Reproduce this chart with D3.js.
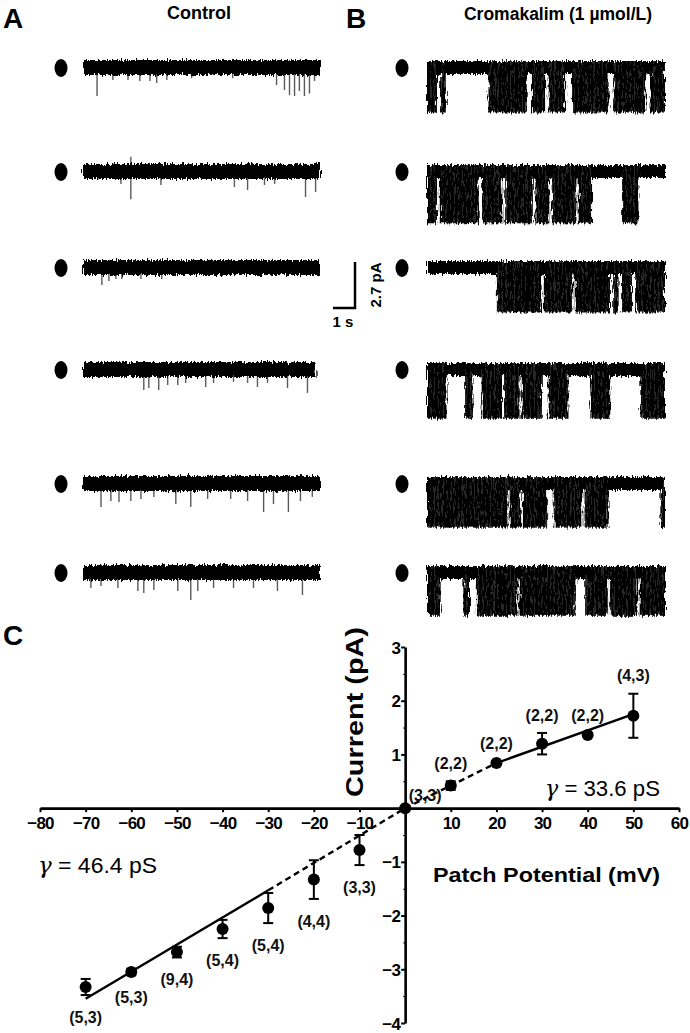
<!DOCTYPE html>
<html>
<head>
<meta charset="utf-8">
<script src="https://cdn.jsdelivr.net/npm/d3@7"></script>
<style>
  body { margin: 0; background: #fff; }
  svg { display: block; font-family: "Liberation Sans", Arial, sans-serif; }
</style>
</head>
<body>
<script>
// ---------- data: single-channel records ----------
const traceDuration = 10.8; // s, width of one record
const controlLength = [10.8, 10.8, 10.8, 10.6, 10.8, 10.8];

// Control: brief openings, [time (s), amplitude (pA)], negative = upward artefact
const controlSpikes = [
  [[0.64, 1.65], [1.36, 0.7], [2.05, 0.7], [2.59, 0.76], [3.05, 0.76], [3.36, 0.88], [3.82, 0.7],
   [4.95, 0.6], [6.82, 0.6], [8.82, 1.0], [9.18, 1.3], [9.41, 1.6], [9.64, 1.65], [9.86, 1.35],
   [10.09, 1.65], [10.32, 1.5], [10.55, 0.76]],
  [[0.68, 0.47], [1.73, 0.7], [2.18, 1.6], [2.18, -0.9], [3.55, 0.76], [6.9, 0.88], [7.5, 1.06],
   [8.27, 0.76], [8.73, 0.7], [10.14, 1.47], [10.6, 1.18]],
  [[0.86, 1.0], [1.18, 0.76], [1.5, 0.65], [1.77, 0.65], [2.64, 0.65], [3.59, 0.65]],
  [[2.77, 1.18], [3.0, 1.06], [3.45, 1.18], [3.86, 0.88], [4.32, 0.88], [4.68, 0.76], [5.59, 1.0],
   [5.95, 0.76], [6.86, 0.7], [7.5, 0.76], [7.95, 1.0], [8.41, 0.76], [9.32, 1.06], [10.23, 1.35]],
  [[0.82, 1.35], [1.27, 1.0], [1.64, 1.06], [2.18, 1.0], [2.64, 0.88], [3.23, 0.76], [4.23, 1.18],
   [4.91, 1.35], [5.68, 0.88], [6.73, 0.88], [7.5, 1.0], [8.23, 1.65], [8.68, 1.18], [9.36, 1.65],
   [9.91, 1.0], [10.45, 0.76]],
  [[0.36, 0.88], [0.82, 0.76], [1.59, 0.88], [2.5, 1.06], [2.77, 1.18], [3.23, 1.0], [4.32, 1.06],
   [4.91, 1.59], [5.23, 1.06], [5.95, 0.88], [6.86, 0.88], [7.77, 0.88], [8.86, 1.06], [10.0, 1.29]]
];

// Cromakalim: bursts of openings, [start (s), end (s)]
const cromaBursts = [
  [[0, 0.45], [0.6, 0.85], [2.79, 4.53], [4.76, 5.36], [5.52, 6.27], [6.58, 8.24], [8.47, 9.91], [10.14, 10.8]],
  [[0, 0.45], [0.58, 2.35], [2.5, 3.42], [3.55, 4.8], [4.92, 5.55], [5.68, 6.78], [6.88, 7.49], [8.85, 9.6]],
  [[3.17, 5.2], [5.3, 6.6], [6.7, 8.3], [8.45, 8.7], [8.85, 9.3], [9.45, 10.8]],
  [[0, 0.89], [1.73, 2.11], [2.48, 3.4], [3.5, 4.2], [4.3, 5.21], [5.52, 6.42], [7.41, 8.32], [9.68, 10.8]],
  [[0, 3.65], [3.75, 4.25], [4.35, 5.45], [5.75, 7.05], [7.15, 8.24], [10.59, 10.8]],
  [[0, 0.62], [1.65, 1.95], [2.26, 4.1], [4.2, 6.73], [7.18, 8.2], [8.3, 9.55], [9.65, 10.8]]
];
const cromaAmp = [2.5, 2.9, 2.5, 2.75, 2.45, 2.4]; // pA

const scaleBarTime = 1;    // s
const scaleBarCurrent = 2.7; // pA

// ---------- data: I-V relation ----------
const potential = [-70, -60, -50, -40, -30, -20, -10, 0, 10, 20, 30, 40, 50];
const current = [-3.33, -3.05, -2.68, -2.25, -1.86, -1.33, -0.78, 0, 0.42, 0.84, 1.2, 1.36, 1.72];
const sem = [0.15, 0.06, 0.1, 0.17, 0.28, 0.36, 0.28, 0, 0.08, 0.03, 0.2, 0.03, 0.41];
const nLabels = ['(5,3)', '(5,3)', '(9,4)', '(5,4)', '(5,4)', '(4,4)', '(3,3)', '(3,3)',
  '(2,2)', '(2,2)', '(2,2)', '(2,2)', '(4,3)'];
const fitNegSolid = [[-70, -3.55], [-30, -1.53]];
const fitNegDash = [[-30, -1.53], [0, 0]];
const fitPosDash = [[0, 0], [20, 0.84]];
const fitPosSolid = [[20, 0.84], [50, 1.75]];
const xTicks = [-80, -70, -60, -50, -40, -30, -20, -10, 10, 20, 30, 40, 50, 60];
const yTicks = [3, 2, 1, -1, -2, -3, -4];
const yMinor = [2.5, 1.5, 0.5, -0.5, -1.5, -2.5, -3.5];

// ---------- svg ----------
const W = 690, H = 1033;
const svg = d3.select('body').append('svg')
  .attr('width', W)
  .attr('height', H);

const defs = svg.append('defs');
const filt = defs.append('filter')
  .attr('id', 'rough')
  .attr('x', '-3%').attr('y', '-60%')
  .attr('width', '106%').attr('height', '220%');
filt.append('feTurbulence')
  .attr('type', 'fractalNoise')
  .attr('baseFrequency', '0.8 0.1')
  .attr('numOctaves', 2)
  .attr('seed', 4)
  .attr('result', 'n');
filt.append('feDisplacementMap')
  .attr('in', 'SourceGraphic')
  .attr('in2', 'n')
  .attr('scale', 7)
  .attr('xChannelSelector', 'R')
  .attr('yChannelSelector', 'G');

const pat = defs.append('pattern')
  .attr('id', 'streak')
  .attr('width', 4).attr('height', 10)
  .attr('patternUnits', 'userSpaceOnUse');
pat.append('rect').attr('width', 4).attr('height', 10).attr('fill', '#050505');
pat.append('rect').attr('x', 2.2).attr('width', 0.5).attr('height', 10).attr('fill', '#444');

// panel letters and titles
const bold = (sel) => sel.attr('font-weight', 'bold').attr('fill', '#000');
bold(svg.append('text').attr('x', 3).attr('y', 28).attr('font-size', 28).text('A'));
bold(svg.append('text').attr('x', 346).attr('y', 28).attr('font-size', 28).text('B'));
bold(svg.append('text').attr('x', 3).attr('y', 645).attr('font-size', 28).text('C'));
bold(svg.append('text').attr('x', 199).attr('y', 19).attr('font-size', 18)
  .attr('text-anchor', 'middle').text('Control'));
bold(svg.append('text').attr('x', 558).attr('y', 20).attr('font-size', 17.5)
  .attr('text-anchor', 'middle').text('Cromakalim (1 µmol/L)'));

// record layout
const rowY = [68, 172, 268, 370, 484, 573];
const xA = d3.scaleLinear().domain([0, traceDuration]).range([83, 320]);
const xB = d3.scaleLinear().domain([0, traceDuration]).range([427, 665]);
const amp = d3.scaleLinear().domain([0, 1]).range([0, 17]); // px per pA

// control records
rowY.forEach((cy, i) => {
  svg.append('ellipse').attr('cx', 61).attr('cy', cy).attr('rx', 6.5).attr('ry', 9).attr('fill', '#000');

  svg.append('g')
    .selectAll('line')
    .data(controlSpikes[i])
    .join('line')
    .attr('x1', d => xA(d[0])).attr('x2', d => xA(d[0]))
    .attr('y1', d => d[1] > 0 ? cy + 4 : cy - 4)
    .attr('y2', d => cy + amp(d[1]))
    .attr('stroke', '#5a5a5a')
    .attr('stroke-width', 1.4);

  const g = svg.append('g').attr('filter', 'url(#rough)');
  g.append('rect')
    .attr('x', xA(0)).attr('y', cy - 8)
    .attr('width', xA(controlLength[i]) - xA(0))
    .attr('height', 15)
    .attr('fill', '#050505');
});

// cromakalim records
rowY.forEach((cy, i) => {
  svg.append('ellipse').attr('cx', 402).attr('cy', cy).attr('rx', 6.5).attr('ry', 9).attr('fill', '#000');

  const g = svg.append('g').attr('filter', 'url(#rough)');
  g.append('rect')
    .attr('x', xB(0)).attr('y', cy - 7)
    .attr('width', xB(traceDuration) - xB(0))
    .attr('height', 13)
    .attr('fill', '#050505');
  g.selectAll('rect.burst')
    .data(cromaBursts[i])
    .join('rect')
    .attr('class', 'burst')
    .attr('x', d => xB(d[0]))
    .attr('y', cy - 7)
    .attr('width', d => xB(d[1]) - xB(d[0]))
    .attr('height', 7 + amp(cromaAmp[i]) + 2)
    .attr('fill', 'url(#streak)');
});

// scale bar
const sbX = 355, sbY = 308;
svg.append('path')
  .attr('d', `M${sbX},${sbY - amp(scaleBarCurrent)}V${sbY}H${sbX - (xB(scaleBarTime) - xB(0))}`)
  .attr('fill', 'none').attr('stroke', '#000').attr('stroke-width', 2.5);
bold(svg.append('text').attr('x', 343).attr('y', 327).attr('font-size', 15)
  .attr('text-anchor', 'middle').text('1 s'));
bold(svg.append('text').attr('transform', 'translate(381,285) rotate(-90)')
  .attr('font-size', 15).attr('text-anchor', 'middle').text('2.7 pA'));

// ---------- panel C: I-V plot ----------
const X = d3.scaleLinear().domain([-80, 60]).range([40, 679]);
const Y = d3.scaleLinear().domain([-4, 3]).range([1023, 647]);

const xAxis = svg.append('g')
  .attr('transform', `translate(0,${Y(0)})`)
  .call(d3.axisBottom(X).tickValues(xTicks).tickSize(4).tickSizeOuter(0).tickPadding(5)
    .tickFormat(d3.format('d')));
const yAxis = svg.append('g')
  .attr('transform', `translate(${X(0)},0)`)
  .call(d3.axisLeft(Y).tickValues(yTicks).tickSize(4).tickSizeOuter(0).tickPadding(1)
    .tickFormat(d3.format('d')));
svg.append('g')
  .attr('transform', `translate(${X(0)},0)`)
  .call(d3.axisLeft(Y).tickValues(yMinor).tickSize(2).tickFormat(''))
  .call(g => g.select('.domain').remove());

[xAxis, yAxis].forEach(a => {
  a.select('.domain').attr('stroke-width', 2.6);
  a.selectAll('.tick line').attr('stroke-width', 2);
  a.selectAll('.tick text')
    .attr('font-family', '"Liberation Sans", Arial, sans-serif')
    .attr('font-size', 17).attr('font-weight', 'bold')
    .attr('letter-spacing', -0.8).attr('fill', '#000');
});
yAxis.selectAll('.tick text').attr('dy', '0.36em');

// fit lines
const line = d3.line().x(d => X(d[0])).y(d => Y(d[1]));
[[fitNegSolid, null], [fitNegDash, '6,4'], [fitPosDash, '6,4'], [fitPosSolid, null]].forEach(([pts, dash]) => {
  svg.append('path')
    .attr('d', line(pts))
    .attr('fill', 'none')
    .attr('stroke', '#000')
    .attr('stroke-width', 2.4)
    .attr('stroke-dasharray', dash);
});

// error bars + points
const pts = potential.map((v, i) => ({ v, i: current[i], e: sem[i], lab: nLabels[i] }));
const eb = svg.append('g').attr('stroke', '#000').attr('stroke-width', 2);
pts.filter(d => d.e > 0).forEach(d => {
  eb.append('line').attr('x1', X(d.v)).attr('x2', X(d.v)).attr('y1', Y(d.i - d.e)).attr('y2', Y(d.i + d.e));
  [d.i - d.e, d.i + d.e].forEach(yv => {
    eb.append('line').attr('x1', X(d.v) - 5).attr('x2', X(d.v) + 5).attr('y1', Y(yv)).attr('y2', Y(yv));
  });
});
svg.append('g').selectAll('circle')
  .data(pts)
  .join('circle')
  .attr('cx', d => X(d.v)).attr('cy', d => Y(d.i))
  .attr('r', 6).attr('fill', '#000');

// n labels
svg.append('g').selectAll('text')
  .data(pts)
  .join('text')
  .attr('x', d => d.v === 0 ? X(d.v) + 20 : X(d.v))
  .attr('y', d => {
    if (d.v < 0) return Y(d.i - d.e) + 22;
    if (d.v > 0) return Y(d.i + d.e) - 18;
    return Y(d.i) - 13;
  })
  .attr('dy', '0.35em')
  .attr('text-anchor', 'middle')
  .attr('font-size', 16).attr('font-weight', 'bold')
  .attr('fill', '#111')
  .text(d => d.lab);

// axis titles and conductances
bold(svg.append('text')
  .attr('transform', `translate(363,712) rotate(-90)`)
  .attr('text-anchor', 'middle').attr('font-size', 23)
  .attr('textLength', 170).attr('lengthAdjust', 'spacingAndGlyphs')
  .text('Current (pA)'));
bold(svg.append('text')
  .attr('x', 433).attr('y', 882).attr('font-size', 21)
  .attr('textLength', 227).attr('lengthAdjust', 'spacingAndGlyphs')
  .text('Patch Potential (mV)'));

const gammaLabel = (x, y, len, value) => {
  const t = svg.append('text').attr('x', x).attr('y', y).attr('font-size', 22).attr('fill', '#000')
    .attr('textLength', len).attr('lengthAdjust', 'spacingAndGlyphs');
  t.append('tspan').attr('font-family', '"DejaVu Serif", serif').attr('font-style', 'italic').text('γ');
  t.append('tspan').text(' = ' + value);
};
gammaLabel(38, 873, 119, '46.4 pS');
gammaLabel(545, 796, 115, '33.6 pS');
</script>
</body>
</html>
